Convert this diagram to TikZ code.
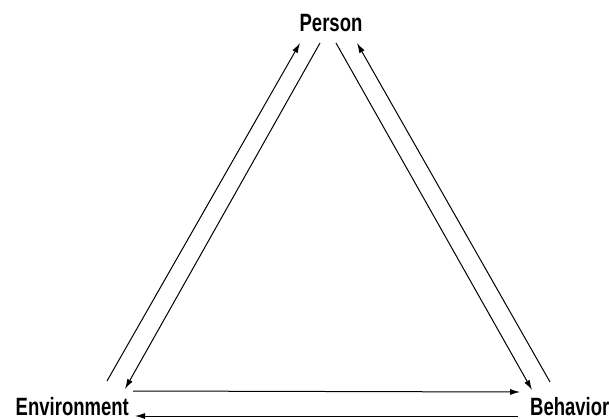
\documentclass[tikz,border=0pt]{standalone}
\usepackage{fontspec}
\setmainfont{Liberation Sans}[FakeStretch=0.74]
\usetikzlibrary{arrows.meta}
\begin{document}
\begin{tikzpicture}[x=1pt,y=-1pt,
  lbl/.style={font=\bfseries\fontsize{25}{25}\selectfont, inner sep=0pt},
  conn/.style={line width=1pt, -{Latex[length=10pt,width=6pt]}}]
\useasboundingbox (0,0) rectangle (609,419);
\node[lbl, anchor=base] (person) at (331,32) {Person};
\node[lbl, anchor=base east] (env) at (129,415) {Environment};
\node[lbl, anchor=base west] (beh) at (530,415) {Behavior};
% endpoints
\coordinate (pA) at (300,43);
\coordinate (pB) at (320,43);
\coordinate (pC) at (336,43);
\coordinate (pD) at (357,43);
\coordinate (eA) at (107,381);
\coordinate (eB) at (125,389);
\coordinate (eC) at (133,391);
\coordinate (eD) at (135,416);
\coordinate (bA) at (520,392);
\coordinate (bB) at (518,416);
\coordinate (bC) at (532,390);
\coordinate (bD) at (550,382);
\draw[conn] (eA) -- (pA);
\draw[conn] (pB) -- (eB);
\draw[conn] (pC) -- (bC);
\draw[conn] (bD) -- (pD);
\draw[conn] (eC) -- (bA);
\draw[conn] (bB) -- (eD);
\end{tikzpicture}
\end{document}
